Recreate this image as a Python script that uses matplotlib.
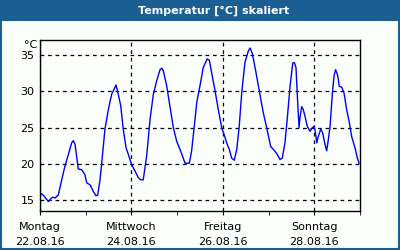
import pandas as pd
import matplotlib.pyplot as plt
import matplotlib.dates as mdates
from matplotlib.patches import Rectangle
from matplotlib.ticker import FuncFormatter

start = pd.Timestamp('2016-08-22 00:00')
hours = [0, 1.7, 4.4, 6.1, 7.0, 7.9, 9.6, 11.4, 13.1, 14.9, 16.6, 17.5, 18.4, 20.1,
         21.9, 23.6, 24.5, 26.3, 28.0, 29.4, 30.3, 31.5, 32.4, 34.1, 35.9, 37.6,
         38.9, 39.9, 41.1, 42.4, 43.7, 45.2, 46.4, 48.1, 49.9, 51.6, 52.9, 54.2,
         56.0, 57.8, 59.5, 61.3, 63.0, 63.9, 64.7, 66.5, 68.3, 70.0, 71.8, 73.5,
         75.2, 76.1, 78.4, 79.6, 81.0, 82.3, 84.0, 85.7, 87.8, 88.9, 90.1, 91.9,
         93.6, 95.4, 96.6, 98.0, 99.4, 100.6, 102.0, 103.3, 104.6, 105.9, 107.6,
         109.4, 110.3, 111.5, 113.4, 115.1, 117.2, 119.0, 121.1, 122.9, 124.6,
         126.0, 127.2, 128.6, 129.8, 131.3, 132.7, 133.5, 134.4, 135.1, 136.0,
         136.5, 137.4, 138.2, 139.1, 140.3, 141.8, 143.0, 143.9, 144.5, 145.3,
         146.1, 147.4, 148.4, 149.6, 150.5, 151.4, 152.3, 153.5, 154.4, 155.2,
         156.3, 157.1, 158.4, 159.6, 161.0, 162.4, 163.6, 165.4, 166.6, 167.5]
temps = [16.0, 15.7, 14.8, 15.3, 15.4, 15.3, 15.7, 17.8, 19.7, 21.3, 22.9, 23.2, 22.7, 19.3,
         19.2, 18.5, 17.4, 17.1, 16.2, 15.6, 15.7, 17.8, 20.1, 24.8, 27.5, 29.6,
         30.3, 30.9, 29.6, 28.0, 24.8, 22.2, 21.3, 19.9, 19.0, 18.1, 17.8, 17.8,
         21.1, 26.2, 29.6, 31.5, 33.0, 33.2, 32.9, 30.8, 27.8, 25.0, 23.1, 22.0,
         20.8, 20.1, 20.1, 21.8, 25.2, 28.5, 30.8, 33.3, 34.5, 34.3, 32.6, 30.1,
         27.5, 25.0, 24.1, 22.9, 22.0, 20.8, 20.5, 22.0, 25.2, 29.8, 34.0,
         35.6, 36.0, 35.2, 32.6, 30.1, 27.1, 25.0, 22.4, 21.9, 21.3,
         20.6, 20.8, 22.9, 26.2, 30.8, 33.9, 34.0, 33.3, 29.4, 25.0,
         26.4, 27.9, 27.5, 26.6, 25.2, 24.5, 25.0, 25.2, 24.5, 22.9,
         23.8, 24.8, 24.3, 22.7, 21.8, 23.4, 25.2, 29.8, 32.2, 33.0,
         32.2, 30.7, 30.6, 29.8, 27.5, 25.7, 23.8, 22.2, 20.8, 20.1]
day_names = ['Montag', 'Dienstag', 'Mittwoch', 'Donnerstag', 'Freitag', 'Samstag', 'Sonntag']
label_days = [22, 24, 26, 28]
yticks = [15, 20, 25, 30, 35]

times = [start + pd.Timedelta(hours=h) for h in hours]

bar_col = '#1b5e93'
fig = plt.figure(figsize=(4, 2.5), dpi=100, facecolor='#fbfffb')
fig.patches.append(Rectangle((0, 0.918), 1, 0.082, transform=fig.transFigure,
                             facecolor=bar_col, edgecolor='none'))
fig.patches.append(Rectangle((0.002, 0.003), 0.995, 0.994, transform=fig.transFigure,
                             facecolor='none', edgecolor=bar_col, lw=1.5))
fig.text(0.535, 0.958, 'Temperatur [°C] skaliert', color='white', fontsize=8,
         fontweight='bold', ha='center', va='center')

ax = fig.add_axes([0.1, 0.156, 0.8, 0.684])
ax.set_facecolor('#fbfffb')
ax.plot(times, temps, color='#0000ee', lw=1)

ax.set_xlim(start, start + pd.Timedelta(days=7))
ax.set_ylim(13.5, 37.1)
ax.set_yticks(yticks)
ax.xaxis.set_major_locator(mdates.DayLocator(bymonthday=label_days))
ax.xaxis.set_minor_locator(mdates.DayLocator())
ax.xaxis.set_major_formatter(FuncFormatter(
    lambda v, p: day_names[mdates.num2date(v).weekday()] + '\n' + mdates.num2date(v).strftime('%d.%m.%y')))
ax.grid(True, color='black', ls=(0, (3, 3)), lw=0.9)
ax.tick_params(axis='y', length=0, pad=4, labelsize=8)
ax.tick_params(axis='x', which='both', length=3, pad=5, labelsize=8)
for lab in ax.get_xticklabels():
    lab.set_linespacing(1.6)
for s in ax.spines.values():
    s.set_color('black')
    s.set_linewidth(1)
ax.text(-0.03, 1.0, '°C', transform=ax.transAxes, fontsize=8, ha='center', va='top')

fig.savefig('out.png', dpi=100, facecolor=fig.get_facecolor())
